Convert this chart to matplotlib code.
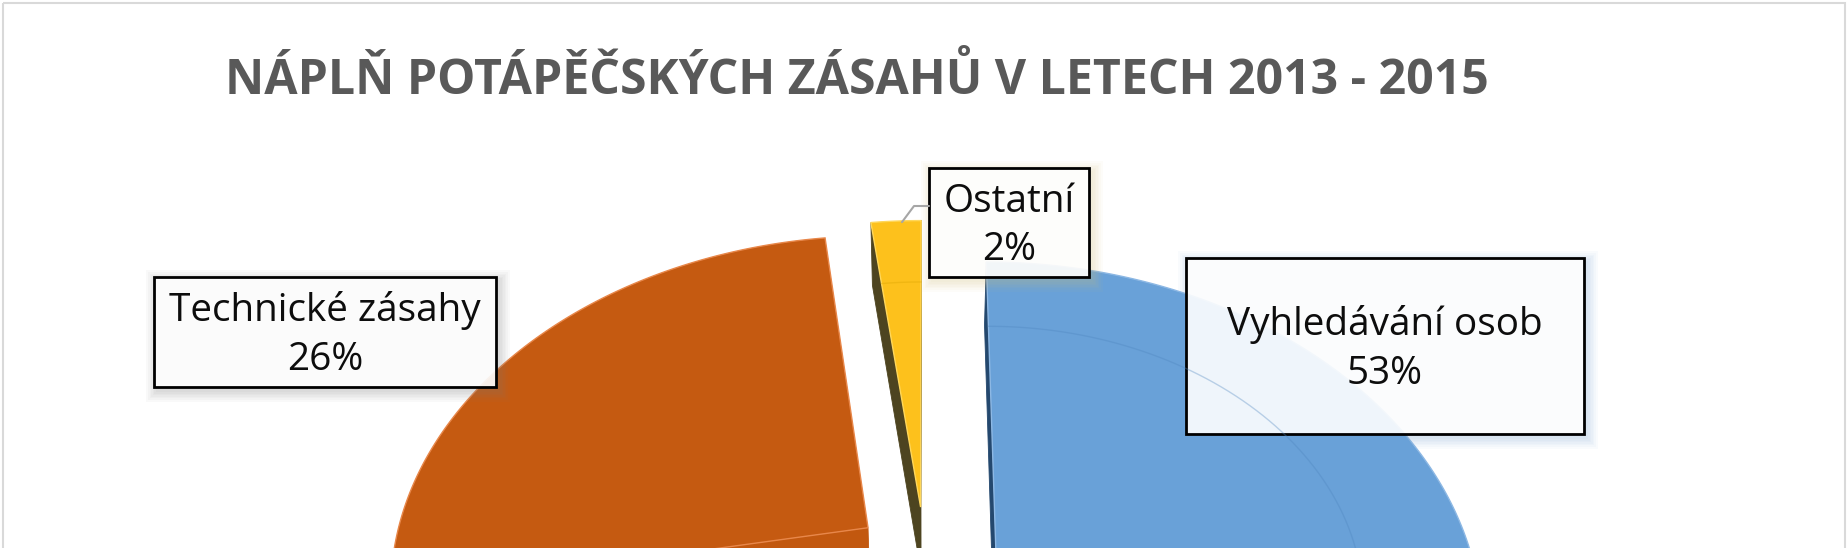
import numpy as np
import matplotlib
matplotlib.use("Agg")
import matplotlib.pyplot as plt
from matplotlib.patches import Polygon, Rectangle

W, H = 1848, 548

title = "NÁPLŇ POTÁPĚČSKÝCH ZÁSAHŮ V LETECH 2013 - 2015"
# slices clockwise from 12 o'clock; the 19 % slice lies below the visible crop
categories = ["Vyhledávání osob", "(mimo výřez)", "Technické zásahy", "Ostatní"]
values = [53, 19, 26, 2]

top_colors = ["#69A1D8", "#A5A5A5", "#C55A11", "#FDC11C"]
cut_colors = ["#24486E", "#7F7F7F", "#C2580F", "#4D4420"]
rim_colors = ["#4F86BF", "#8C8C8C", "#A84C0E", "#D9A300"]
edge_colors = ["#8DB8E4", "#BDBDBD", "#E8874A", "#FFD75A"]
bevel_alpha = [0.35, 0.0, 0.0, 0.35]
explode = [0.15, 0.15, 0.15, 0.15]

# label boxes in pixels (x0, y0, x1, y1), None = not shown
label_boxes = [(1186, 258, 1584, 434), None, (154, 277, 496, 387), (929, 168, 1089, 277)]
glow_colors = ["#7FA8D8", None, "#808080", "#D9C27A"]

# perspective camera for the 3d pie
phi = np.radians(47)
f, d, X0, Y0 = 2000.0, 4.2, 925.0, 558.0
h = 0.2
cam = np.array([0.0, -d * np.cos(phi)])


def proj(u, v, z=0.0):
    u = np.asarray(u, float)
    v = np.asarray(v, float)
    w = d + v * np.cos(phi) - z * np.sin(phi)
    return X0 + f * u / w, Y0 - f * (v * np.sin(phi) + z * np.cos(phi)) / w


fig = plt.figure(figsize=(W / 100, H / 100), dpi=100)
fig.patch.set_facecolor("white")

# let matplotlib lay out the pie (angles + explode), then project it
hax = fig.add_axes([0, 0, 0.05, 0.05])
wedges, _ = hax.pie(values, explode=explode, startangle=90, counterclock=False)
geo = [(w.center, w.theta1, w.theta2, w.r) for w in wedges]
fig.delaxes(hax)

ax = fig.add_axes([0, 0, 1, 1])
ax.set_xlim(0, W)
ax.set_ylim(H, 0)
ax.axis("off")

# chart frame
ax.add_patch(Rectangle((2.5, 3), W - 6, H + 20, fill=False, ec="#D9D9D9", lw=1.5))

order = sorted(range(len(values)), key=lambda i: -geo[i][0][1])
for i in order:
    (cx, cy), t1, t2, r = geo[i]
    t = np.radians(np.linspace(t1, t2, 240))
    au, av = cx + r * np.cos(t), cy + r * np.sin(t)

    # outer rim side
    vis = (cam[0] - au) * np.cos(t) + (cam[1] - av) * np.sin(t) > 0
    idx = np.flatnonzero(vis)
    if idx.size:
        for run in np.split(idx, np.flatnonzero(np.diff(idx) > 1) + 1):
            if run.size < 2:
                continue
            xt, yt = proj(au[run], av[run], 0)
            xb, yb = proj(au[run], av[run], -h)
            ax.add_patch(Polygon(np.c_[np.r_[xt, xb[::-1]], np.r_[yt, yb[::-1]]],
                                 fc=rim_colors[i], ec=rim_colors[i], lw=0.5))

    # radial cut faces
    for ang, sgn in ((t1, -1), (t2, 1)):
        a = np.radians(ang)
        nx, ny = -sgn * np.sin(a), sgn * np.cos(a)
        if (cam[0] - cx) * nx + (cam[1] - cy) * ny <= 0:
            continue
        ru, rv = cx + r * np.cos(a), cy + r * np.sin(a)
        qu = [cx, ru, ru, cx]
        qv = [cy, rv, rv, cy]
        qz = [0, 0, -h, -h]
        qx, qy = zip(*[proj(qu[k], qv[k], qz[k]) for k in range(4)])
        ax.add_patch(Polygon(np.c_[qx, qy], fc=cut_colors[i], ec=cut_colors[i], lw=0.6))

    # top face
    px, py = proj(np.r_[cx, au], np.r_[cy, av], 0)
    ax.add_patch(Polygon(np.c_[px, py], fc=top_colors[i], ec=edge_colors[i], lw=1.0))

    # faint bevel line
    if bevel_alpha[i] > 0:
        bx, by = proj(cx + 0.76 * r * np.cos(t), cy + 0.76 * r * np.sin(t), 0)
        ax.plot(bx, by, color=rim_colors[i], lw=1.0, alpha=bevel_alpha[i])

# title
tt = ax.text(857, 94, title, ha="center", va="baseline", fontsize=36,
             fontweight="bold", color="#595959", family=["Open Sans", "DejaVu Sans"])
rend = fig.canvas.get_renderer()
tt.set_fontsize(tt.get_fontsize() * 1267 / tt.get_window_extent(rend).width)

# data labels
probe = ax.text(0, -100, categories[2], fontsize=24, family=["Open Sans", "DejaVu Sans"])
label_size = 24 * 313 / probe.get_window_extent(rend).width
probe.remove()

for i, box in enumerate(label_boxes):
    if box is None:
        continue
    x0, y0, x1, y1 = box
    for k in range(7):
        g = 1.0 + 1.6 * k
        ax.add_patch(Rectangle((x0 + 3 - g, y0 + 4 - g), x1 - x0 + 2 * g, y1 - y0 + 2 * g,
                               fc=glow_colors[i], ec="none", alpha=0.045))
    ax.add_patch(Rectangle((x0, y0), x1 - x0, y1 - y0, fc="white", alpha=0.9, ec="none"))
    ax.add_patch(Rectangle((x0, y0), x1 - x0, y1 - y0, fill=False, ec="black", lw=2.0))
    xc, yc = (x0 + x1) / 2, (y0 + y1) / 2
    for txt, dy in ((categories[i], -10.5), (f"{values[i]}%", 37.5)):
        ax.text(xc, yc + dy, txt, ha="center", va="baseline", fontsize=label_size,
                color="#0D0D0D", family=["Open Sans", "DejaVu Sans"])

# leader line of the small slice
(cx, cy), t1, t2, r = geo[3]
tm = np.radians((t1 + t2) / 2)
lx, ly = proj(cx + r * np.cos(tm), cy + r * np.sin(tm), 0)
bx0, by0 = label_boxes[3][0], 206
ax.plot([bx0, bx0 - 15, lx + 6], [by0, by0, ly + 1], color="#A6A6A6", lw=1.5,
        solid_capstyle="round")

fig.savefig("out.png", dpi=100, facecolor="white")
